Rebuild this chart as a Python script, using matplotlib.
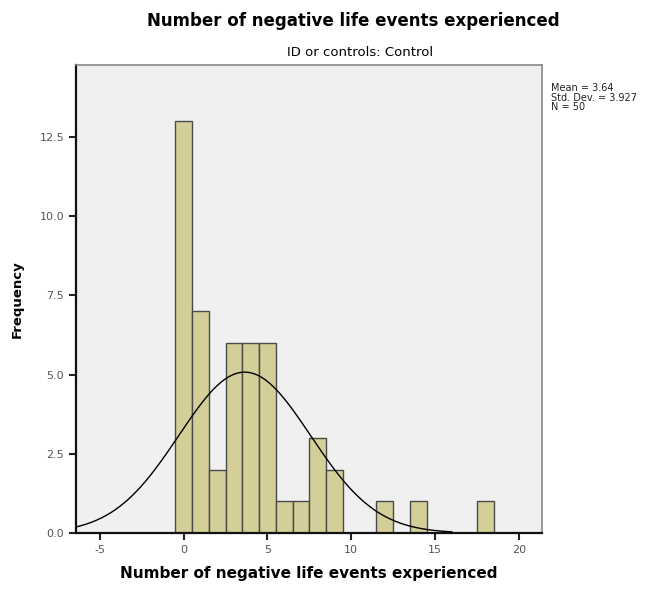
import matplotlib
matplotlib.use("Agg")
import matplotlib.pyplot as plt
import numpy as np

# histogram counts per integer value (bin width 1)
values = [0, 1, 2, 3, 4, 5, 6, 7, 8, 9, 10, 11, 12, 13, 14, 15, 16, 17, 18]
counts = [13, 7, 2, 6, 6, 6, 1, 1, 3, 2, 0, 0, 1, 0, 1, 0, 0, 0, 1]
mean = 3.64
std_dev = 3.927
n = 50
x_ticks = [-5, 0, 5, 10, 15, 20]
y_ticks = [0.0, 2.5, 5.0, 7.5, 10.0, 12.5]

fig = plt.figure(figsize=(6.6, 5.92), dpi=100)
ax = fig.add_axes([0.115, 0.0997, 0.706, 0.790])
ax.set_facecolor('#f0f0f0')

ax.bar(values, counts, width=1.0, color='#d4cf98', edgecolor='#4a4a4a', linewidth=1.0, zorder=2)

# normal curve scaled to counts
xs = np.linspace(-6.43, 16.0, 300)
ys = n * 1.0 / (std_dev * np.sqrt(2 * np.pi)) * np.exp(-0.5 * ((xs - mean) / std_dev) ** 2)
ax.plot(xs, ys, color='black', linewidth=1.0, zorder=3)

ax.set_xlim(-6.43, 21.37)
ax.set_ylim(0, 14.77)
ax.set_xticks(x_ticks)
ax.set_xticklabels([str(t) for t in x_ticks])
ax.set_yticks(y_ticks)
ax.set_yticklabels([f'{t:.1f}' for t in y_ticks])
ax.tick_params(direction='out', length=5, width=1.5, labelsize=8, colors='#222222', labelcolor='#555555')

for side in ['left', 'bottom']:
    ax.spines[side].set_linewidth(1.6)
    ax.spines[side].set_color('#111111')
for side in ['top', 'right']:
    ax.spines[side].set_linewidth(1.2)
    ax.spines[side].set_color('#888888')

ax.set_xlabel('Number of negative life events experienced', fontsize=11, fontweight='bold', labelpad=8)
ax.set_ylabel('Frequency', fontsize=9.5, fontweight='bold', labelpad=11)

fig.text(0.535, 0.965, 'Number of negative life events experienced', ha='center', va='center',
         fontsize=12, fontweight='bold')
fig.text(0.545, 0.912, 'ID or controls: Control', ha='center', va='center', fontsize=9.5)

fig.text(0.835, 0.835, f'Mean = {mean}\nStd. Dev. = {std_dev}\nN = {n}', ha='left', va='center',
         fontsize=7, linespacing=0.95, color='#222222')

fig.savefig('out.png', dpi=100)
